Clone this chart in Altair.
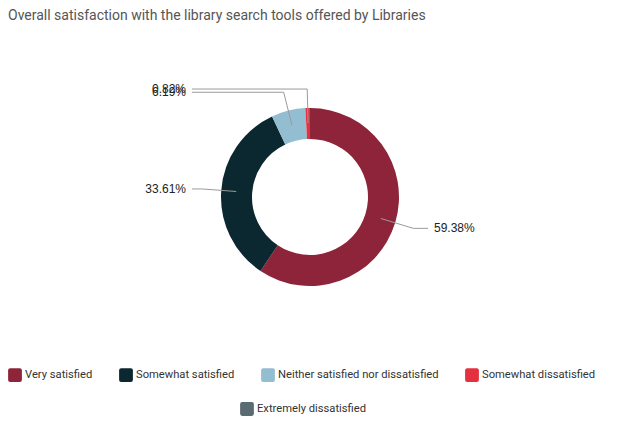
import altair as alt
import pandas as pd

categories = ["Very satisfied", "Somewhat satisfied", "Neither satisfied nor dissatisfied",
              "Somewhat dissatisfied", "Extremely dissatisfied"]
values = [59.38, 33.61, 6.19, 0.82, 0.0]
colors = ["#8E2439", "#0B2730", "#93BDD0", "#E3313F", "#5B6B73"]

df = pd.DataFrame({"category": categories, "value": values, "order": list(range(len(categories)))})

W, H = 604, 318
R_IN, R_OUT = 58, 89
R_A, R_B = 74, 108
X_LINE, X_TEXT = 118, 124
FONT = "Liberation Sans"
LFONT = "Roboto"
ROUNDED = "M-0.7,-1L0.7,-1Q1,-1 1,-0.7L1,0.7Q1,1 0.7,1L-0.7,1Q-1,1 -1,0.7L-1,-0.7Q-1,-1 -0.7,-1Z"

base = alt.Chart(df)

legend_common = dict(orient="none", direction="horizontal", title=None,
                     symbolType=ROUNDED, symbolSize=190, symbolStrokeWidth=0,
                     labelFont=LFONT, labelFontSize=11.2, labelColor="#333333",
                     labelOffset=3, columnPadding=26, symbolOpacity=1, labelLimit=400)

arc_main = base.mark_arc(innerRadius=R_IN, outerRadius=R_OUT).encode(
    theta=alt.Theta("value:Q", stack=True),
    order=alt.Order("order:Q"),
    color=alt.Color("category:N", scale=alt.Scale(domain=categories, range=colors),
                    legend=alt.Legend(values=categories[:4], legendX=0, legendY=330, **legend_common)),
)

arc_extra = base.transform_filter(alt.datum.category == categories[4]).mark_arc(
    innerRadius=R_IN, outerRadius=R_OUT).encode(
    theta=alt.Theta("value:Q", stack=True),
    order=alt.Order("order:Q"),
    fill=alt.Fill("category:N", scale=alt.Scale(domain=[categories[4]], range=[colors[4]]),
                  legend=alt.Legend(legendX=232, legendY=364, **legend_common)),
)

xs = alt.Scale(domain=[-W / 2, W / 2])
ys = alt.Scale(domain=[-H / 2, H / 2])

lab = base.transform_filter("datum.value > 0").transform_joinaggregate(
    total="sum(value)"
).transform_window(
    cum="sum(value)", sort=[alt.SortField("order")], frame=[None, 0]
).transform_calculate(
    mid="(datum.cum - datum.value / 2) / datum.total * 2 * PI",
    ax=f"{R_A} * sin(datum.mid)", ay=f"{R_A} * cos(datum.mid)",
    bx=f"{R_B} * sin(datum.mid)", by=f"{R_B} * cos(datum.mid)",
    side="datum.bx >= 0 ? 1 : -1",
    cx=f"datum.side * {X_LINE}",
    tx=f"datum.side * {X_TEXT}",
    label="format(datum.value, '.2f') + '%'",
)

rule1 = lab.mark_rule(color="#9b9b9b", strokeWidth=1).encode(
    x=alt.X("ax:Q", scale=xs, axis=None), y=alt.Y("ay:Q", scale=ys, axis=None),
    x2="bx:Q", y2="by:Q")
rule2 = lab.mark_rule(color="#9b9b9b", strokeWidth=1).encode(
    x=alt.X("bx:Q", scale=xs, axis=None), y=alt.Y("by:Q", scale=ys, axis=None),
    x2="cx:Q", y2="by:Q")

text_right = lab.transform_filter("datum.side > 0").mark_text(
    align="left", baseline="middle", font=FONT, fontSize=12, color="#222222").encode(
    x=alt.X("tx:Q", scale=xs, axis=None), y=alt.Y("by:Q", scale=ys, axis=None), text="label:N")
text_left = lab.transform_filter("datum.side < 0").mark_text(
    align="right", baseline="middle", font=FONT, fontSize=12, color="#222222").encode(
    x=alt.X("tx:Q", scale=xs, axis=None), y=alt.Y("by:Q", scale=ys, axis=None), text="label:N")

chart = alt.layer(arc_main, arc_extra, rule1, rule2, text_left, text_right).properties(
    width=W, height=H,
    autosize=alt.AutoSizeParams(type="none"),
    padding={"top": 30, "left": 0, "right": 0, "bottom": 62},
    title=alt.Title("Overall satisfaction with the library search tools offered by Libraries",
                    anchor="start", font=LFONT, fontSize=14, fontWeight="normal",
                    color="#555555", offset=15),
).configure_view(stroke=None)

chart.save("out.html", embed_options={"renderer": "svg", "actions": False})
